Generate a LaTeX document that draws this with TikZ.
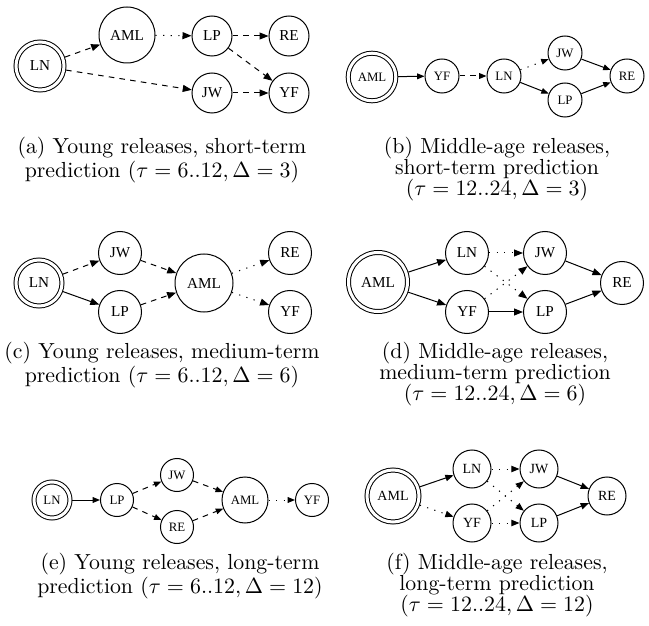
\documentclass[tikz,border=0pt]{standalone}
\usepackage{fontspec}
\newfontfamily\gvfont{Liberation Serif}
\usetikzlibrary{arrows.meta}
\newcommand{\lblsize}[1]{\fontsize{#1}{#1}\gvfont}
\tikzset{
  relNode/.style={circle,draw,line width=0.5pt,inner sep=0pt,minimum size=#1},
  relRoot/.style={relNode=#1,double,double distance=1.5pt,outer sep=1.2pt},
  relSolid/.style={->,line width=0.5pt},
  relDash/.style={relSolid,dash pattern=on 2.8pt off 2.6pt},
  relDot/.style={relSolid,dash pattern=on 0.6pt off 3.2pt},
  subcap/.style={align=center,inner sep=0pt,anchor=north,font=\fontsize{10.9}{10.5}\selectfont}
}

\begin{document}
\begin{tikzpicture}[x=0.5pt,y=-0.5pt]
\useasboundingbox (0,0) rectangle (649,626);

% (a) young, short-term
\begin{scope}[>={Triangle[length=4.5pt,width=3.5pt]},nodes={font=\lblsize{7.6}}]
\node[relRoot=24pt] (aLN) at (40,66) {LN};
\node[relNode=28pt] (aAML) at (127,35) {AML};
\node[relNode=20pt] (aLP) at (212,36) {LP};
\node[relNode=20pt] (aRE) at (289,36) {RE};
\node[relNode=20pt] (aJW) at (212,93) {JW};
\node[relNode=20pt] (aYF) at (289,93) {YF};
\draw[relDash] (aLN) -- (aAML);
\draw[relDash] (aLN) -- (aJW);
\draw[relDot] (aAML) -- (aLP);
\draw[relDash] (aLP) -- (aRE);
\draw[relDash] (aLP) -- (aYF);
\draw[relDash] (aJW) -- (aYF);
\end{scope}
\node[subcap] (capA) at (162,137) {(a) Young releases, short-term\\prediction ($\tau = 6..12, \Delta = 3$)};

% (b) middle-age, short-term
\begin{scope}[>={Triangle[length=3.7pt,width=2.9pt]},nodes={font=\lblsize{6.4}}]
\node[relRoot=23.8pt] (bAML) at (372,77) {AML};
\node[relNode=17pt] (bYF) at (442,76) {YF};
\node[relNode=17pt] (bLN) at (504,76) {LN};
\node[relNode=17pt] (bJW) at (565,53) {JW};
\node[relNode=17pt] (bLP) at (565,100) {LP};
\node[relNode=17pt] (bRE) at (627,76) {RE};
\draw[relSolid] (bAML) -- (bYF);
\draw[relDash] (bYF) -- (bLN);
\draw[relDot] (bLN) -- (bJW);
\draw[relSolid] (bLN) -- (bLP);
\draw[relSolid] (bJW) -- (bRE);
\draw[relSolid] (bLP) -- (bRE);
\end{scope}
\node[subcap] (capB) at (497,137) {(b) Middle-age releases,\\short-term prediction\\($\tau = 12..24, \Delta = 3$)};

% (c) young, medium-term
\begin{scope}[>={Triangle[length=4.5pt,width=3.5pt]},nodes={font=\lblsize{7.6}}]
\node[relRoot=23pt] (cLN) at (39,283) {LN};
\node[relNode=21.5pt] (cJW) at (120,253) {JW};
\node[relNode=21.5pt] (cLP) at (120,312) {LP};
\node[relNode=29pt] (cAML) at (204,283) {AML};
\node[relNode=21.5pt] (cRE) at (290,253) {RE};
\node[relNode=21.5pt] (cYF) at (290,312) {YF};
\draw[relDash] (cLN) -- (cJW);
\draw[relSolid] (cLN) -- (cLP);
\draw[relDash] (cJW) -- (cAML);
\draw[relDash] (cLP) -- (cAML);
\draw[relDot] (cAML) -- (cRE);
\draw[relDot] (cAML) -- (cYF);
\end{scope}
\node[subcap] (capC) at (162,342) {(c) Young releases, medium-term\\prediction ($\tau = 6..12, \Delta = 6$)};

% (d) middle-age, medium-term
\begin{scope}[>={Triangle[length=4.5pt,width=3.5pt]},nodes={font=\lblsize{7.6}}]
\node[relRoot=29.5pt] (dAML) at (378,282) {AML};
\node[relNode=21.5pt] (dLN) at (467,253) {LN};
\node[relNode=21.5pt] (dYF) at (467,312) {YF};
\node[relNode=21.5pt] (dJW) at (545,253) {JW};
\node[relNode=21.5pt] (dLP) at (545,312) {LP};
\node[relNode=21.5pt] (dRE) at (622,283) {RE};
\draw[relSolid] (dAML) -- (dLN);
\draw[relSolid] (dAML) -- (dYF);
\draw[relDot] (dLN) -- (dJW);
\draw[relDot] (dLN) -- (dLP);
\draw[relDot] (dYF) -- (dJW);
\draw[relSolid] (dYF) -- (dLP);
\draw[relSolid] (dJW) -- (dRE);
\draw[relSolid] (dLP) -- (dRE);
\end{scope}
\node[subcap] (capD) at (495,342) {(d) Middle-age releases,\\medium-term prediction\hspace*{16pt}\\($\tau = 12..24, \Delta = 6$)};

% (e) young, long-term
\begin{scope}[>={Triangle[length=3.7pt,width=2.9pt]},nodes={font=\lblsize{6.4}}]
\node[relRoot=18pt] (eLN) at (52,500) {LN};
\node[relNode=16.5pt] (eLP) at (117,500) {LP};
\node[relNode=16.5pt] (eJW) at (177,475) {JW};
\node[relNode=16.5pt] (eRE) at (177,527) {RE};
\node[relNode=23pt] (eAML) at (245,500) {AML};
\node[relNode=16.5pt] (eYF) at (312,500) {YF};
\draw[relSolid] (eLN) -- (eLP);
\draw[relDash] (eLP) -- (eJW);
\draw[relDash] (eLP) -- (eRE);
\draw[relDash] (eJW) -- (eAML);
\draw[relDash] (eRE) -- (eAML);
\draw[relDot] (eAML) -- (eYF);
\end{scope}
\node[subcap] (capE) at (180,553) {(e) Young releases, long-term\\prediction ($\tau = 6..12, \Delta = 12$)};

% (f) middle-age, long-term
\begin{scope}[>={Triangle[length=4.1pt,width=3.2pt]},nodes={font=\lblsize{7}}]
\node[relRoot=26pt] (fAML) at (393,496) {AML};
\node[relNode=19pt] (fLN) at (472,469) {LN};
\node[relNode=19pt] (fYF) at (472,523) {YF};
\node[relNode=19pt] (fJW) at (539,469) {JW};
\node[relNode=19pt] (fLP) at (539,523) {LP};
\node[relNode=19pt] (fRE) at (607,496) {RE};
\draw[relSolid] (fAML) -- (fLN);
\draw[relDot] (fAML) -- (fYF);
\draw[relDot] (fLN) -- (fJW);
\draw[relDot] (fLN) -- (fLP);
\draw[relDot] (fYF) -- (fJW);
\draw[relDot] (fYF) -- (fLP);
\draw[relSolid] (fJW) -- (fRE);
\draw[relSolid] (fLP) -- (fRE);
\end{scope}
\node[subcap] (capF) at (497,553) {(f) Middle-age releases,\\long-term prediction\\($\tau = 12..24, \Delta = 12$)};
\end{tikzpicture}
\end{document}
